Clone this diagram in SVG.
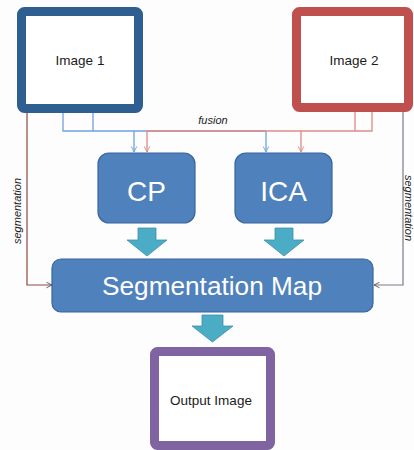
<svg xmlns="http://www.w3.org/2000/svg" width="414" height="450" viewBox="0 0 414 450">
<defs>
<style>
.img{fill:#fff;stroke-width:9}
.lbl{font-family:"Liberation Sans",Arial,sans-serif;font-size:13.5px;fill:#1a1a1a;text-anchor:middle}
.proc{fill:#4F81BD;stroke:#3A65A0;stroke-width:1.2}
.ptxt{font-family:"Liberation Sans",Arial,sans-serif;fill:#fff;text-anchor:middle}
.it{font-family:"Liberation Sans",Arial,sans-serif;font-style:italic;font-size:11px;fill:#222;text-anchor:middle}
.blk{fill:#4BACC6;stroke:#3D8FA8;stroke-width:0.8}
.bl{fill:none;stroke:#6FA3DA;stroke-width:1.3}
.rd{fill:none;stroke:#E08A84;stroke-width:1.3}
</style>
<marker id="ab" viewBox="0 0 10 10" refX="9" refY="5" markerWidth="7" markerHeight="7" orient="auto" markerUnits="userSpaceOnUse"><path d="M1,1 L9,5 L1,9" fill="none" stroke="#6FA3DA" stroke-width="1.3"/></marker>
<marker id="ar" viewBox="0 0 10 10" refX="9" refY="5" markerWidth="7" markerHeight="7" orient="auto" markerUnits="userSpaceOnUse"><path d="M1,1 L9,5 L1,9" fill="none" stroke="#E08A84" stroke-width="1.3"/></marker>
<marker id="ak" viewBox="0 0 10 10" refX="9" refY="5" markerWidth="7" markerHeight="7" orient="auto" markerUnits="userSpaceOnUse"><path d="M1,1 L9,5 L1,9" fill="none" stroke="#5a4a48" stroke-width="1.2"/></marker>
</defs>
<rect width="414" height="450" fill="#fdfdfe"/>
<g id="connectors">
<path class="bl" d="M63,113 V131 H266"/>
<path class="bl" d="M93,113 V131"/>
<path class="bl" d="M134,131 V152" marker-end="url(#ab)"/>
<path class="bl" d="M266,131 V152" marker-end="url(#ab)"/>
<path class="rd" d="M372,112 V131 H147"/>
<path class="rd" d="M355,112 V131"/>
<path class="rd" d="M147,131 V152" marker-end="url(#ar)"/>
<path class="rd" d="M301,131 V152" marker-end="url(#ar)"/>
<text class="it" x="213" y="124">fusion</text>
<path d="M27,113 V285 H52" fill="none" stroke="#8A4A3E" stroke-width="1.2" marker-end="url(#ak)"/>
<path d="M403,112 V285 H374" fill="none" stroke="#7E7A86" stroke-width="1.2" marker-end="url(#ak)"/>
<text class="it" transform="translate(21,211) rotate(-90)">segmentation</text>
<text class="it" transform="translate(404.5,208) rotate(90)" font-size="10.5">segmentation</text>
<path class="blk" d="M138,228 H156 V240 H167 L147,256 L127,240 H138 Z"/>
<path class="blk" d="M275,228 H293 V240 H304 L284,256 L264,240 H275 Z"/>
<path class="blk" d="M202,315 H223 V326 H233 L212.5,342 L192,326 H202 Z"/>
</g>
<g id="image1">
<rect class="img" x="21.5" y="11.5" width="117" height="97" rx="3" stroke="#2F5F91"/>
<text class="lbl" x="80" y="65">Image 1</text>
</g>
<g id="image2">
<rect class="img" x="296.5" y="11.5" width="112" height="96" rx="3" stroke="#C0504D"/>
<text class="lbl" x="354" y="65">Image 2</text>
</g>
<g id="cp">
<rect class="proc" x="98" y="153" width="97" height="70" rx="11"/>
<text class="ptxt" x="146.5" y="201" font-size="28">CP</text>
</g>
<g id="ica">
<rect class="proc" x="235" y="153" width="97" height="70" rx="11"/>
<text class="ptxt" x="283.5" y="201" font-size="28">ICA</text>
</g>
<g id="segmap">
<rect class="proc" x="52" y="259" width="321" height="53" rx="9"/>
<text class="ptxt" x="212" y="295" font-size="25" textLength="220" lengthAdjust="spacingAndGlyphs">Segmentation Map</text>
</g>
<g id="output">
<rect class="img" x="154.5" y="351.5" width="116" height="94" rx="3" stroke="#8064A2"/>
<text class="lbl" x="211" y="405">Output Image</text>
</g>
</svg>
